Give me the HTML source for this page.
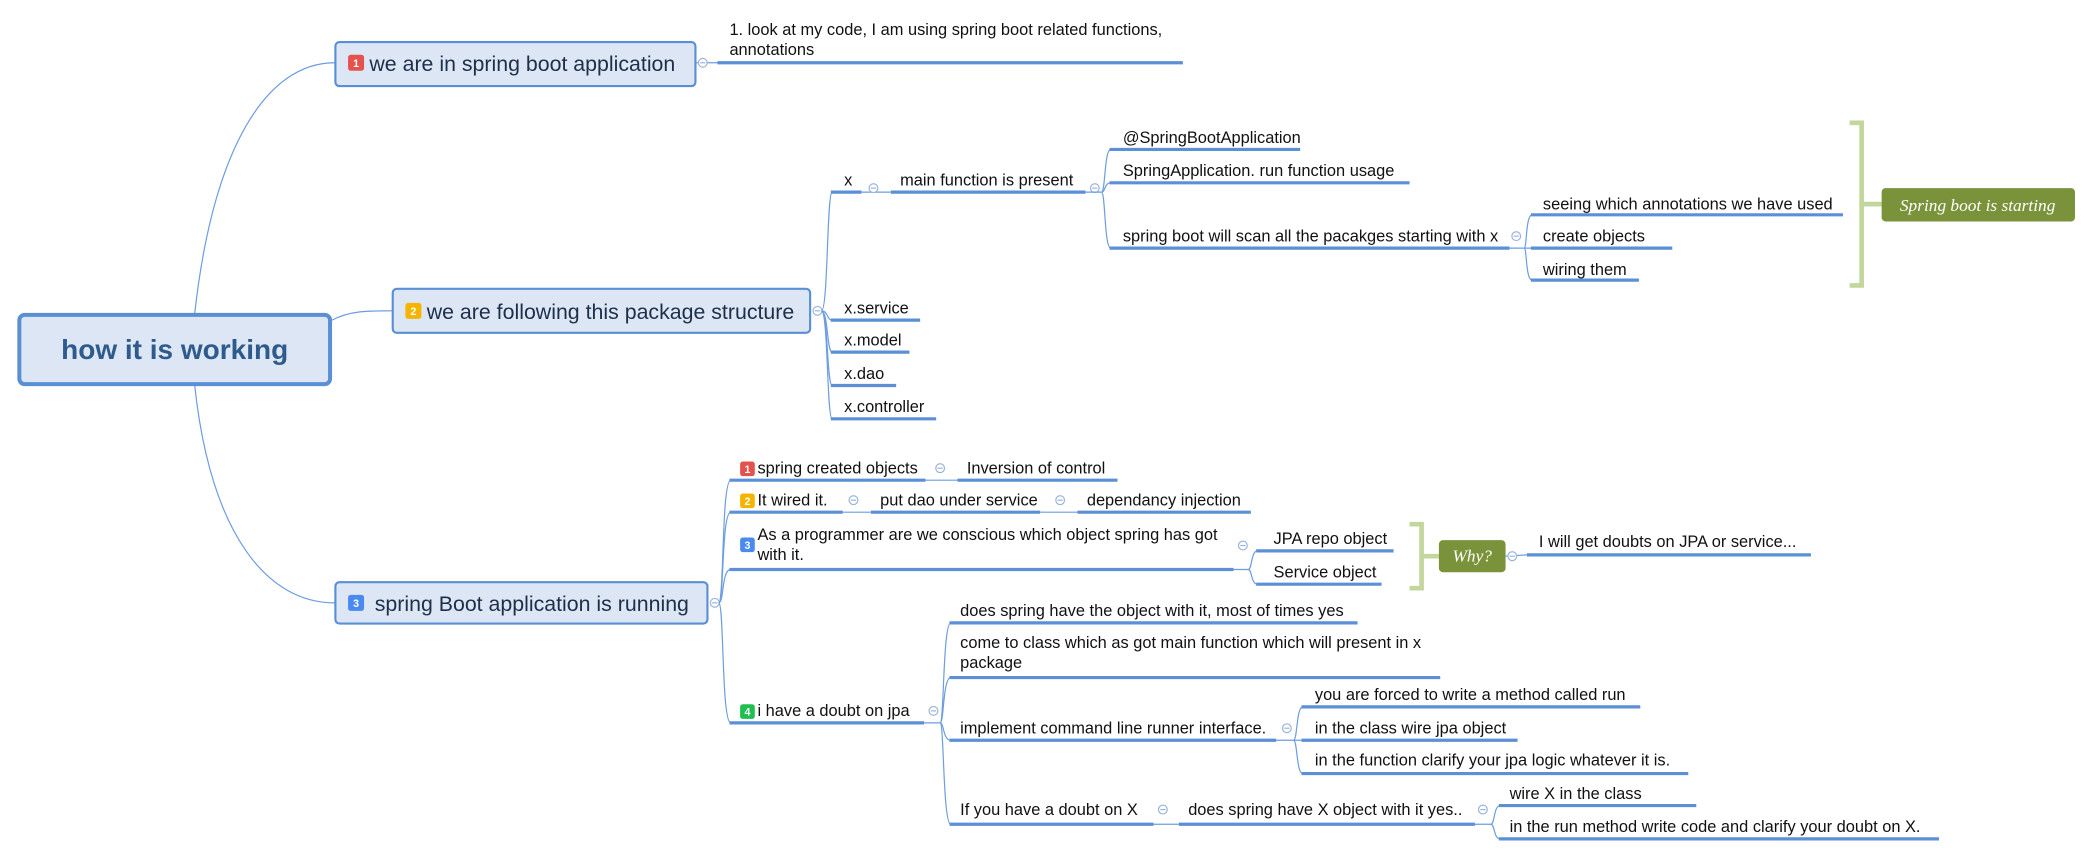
<!DOCTYPE html>
<html><head><meta charset="utf-8"><style>
html,body{margin:0;padding:0;background:#fff;}
svg{display:block;}
text{font-family:"Liberation Sans",Arial,sans-serif;fill:#111;}
.t{font-size:12.3px;}
.u{stroke:#5b8fd6;stroke-width:2.4;}
.c{stroke:#6d9ce0;stroke-width:0.9;fill:none;}
.ci{fill:#fff;stroke:#9bb4da;stroke-width:0.9;}
.cm{stroke:#9bb4da;stroke-width:0.9;}
.mk{font-size:8px;fill:#fff;font-weight:bold;text-anchor:middle;}
</style></head><body>
<svg width="2091" height="859" viewBox="0 0 1568 644" xmlns="http://www.w3.org/2000/svg">
<path class="c" d="M146 235 C 160 110 200 47 251 47"/>
<path class="c" d="M249 240 C 262 233 275 233 294 233"/>
<path class="c" d="M146 289 C 158 400 200 452 251 452"/>

<rect x="14.5" y="236" width="233" height="52" rx="4" fill="#dce6f4" stroke="#5a8fd6" stroke-width="3"/>
<text x="131" y="269" text-anchor="middle" style="font-size:21px;font-weight:bold;fill:#2f5a8c">how it is working</text>

<rect x="251.5" y="31.5" width="270" height="33" rx="3" fill="#dce6f4" stroke="#5a8fd6" stroke-width="1.6"/>
<rect x="261" y="41" width="12" height="12" rx="2" fill="#e5514c"/><text class="mk" x="267" y="50">1</text>
<text x="277" y="53" style="font-size:16px;fill:#1e2f4a">we are in spring boot application</text>
<line class="c" x1="522" y1="47" x2="538" y2="47"/>
<circle class="ci" cx="527" cy="47" r="3.3"/><line class="cm" x1="525" y1="47" x2="529" y2="47"/>
<line class="u" x1="538" y1="47" x2="887" y2="47"/>
<text class="t" x="547" y="26">1. look at my code, I am using spring boot related functions,</text>
<text class="t" x="547" y="41">annotations</text>

<rect x="294.5" y="216.5" width="313" height="33" rx="3" fill="#dce6f4" stroke="#5a8fd6" stroke-width="1.6"/>
<rect x="304" y="227" width="12" height="12" rx="2" fill="#f5b400"/><text class="mk" x="310" y="236">2</text>
<text x="320" y="239" style="font-size:16px;fill:#1e2f4a">we are following this package structure</text>
<circle class="ci" cx="613" cy="233" r="3.3"/><line class="cm" x1="611" y1="233" x2="615" y2="233"/>
<path class="c" d="M616 233 C 621 233 620 144 624 144"/>
<path class="c" d="M616 233 C 621 233 620 240 624 240"/>
<path class="c" d="M616 233 C 621 233 620 264 624 264"/>
<path class="c" d="M616 233 C 621 233 620 289 624 289"/>
<path class="c" d="M616 233 C 621 233 620 314 624 314"/>
<text class="t" x="633" y="144" dy="-5">x</text><line class="u" x1="623" y1="144" x2="646" y2="144"/>
<line class="c" x1="646" y1="144" x2="668" y2="144"/>
<circle class="ci" cx="655" cy="141" r="3.3"/><line class="cm" x1="653" y1="141" x2="657" y2="141"/>
<text class="t" x="675" y="139">main function is present</text><line class="u" x1="668" y1="144" x2="814" y2="144"/>
<circle class="ci" cx="821" cy="141" r="3.3"/><line class="cm" x1="819" y1="141" x2="823" y2="141"/>
<path class="c" d="M814 144 L826 144 C 829 144 828 112 833 112"/>
<path class="c" d="M826 144 C 829 144 828 137 833 137"/>
<path class="c" d="M826 144 C 829 144 828 186 833 186"/>
<text class="t" x="842" y="107">@SpringBootApplication</text><line class="u" x1="832" y1="112" x2="975" y2="112"/>
<text class="t" x="842" y="132">SpringApplication. run function usage</text><line class="u" x1="832" y1="137" x2="1057" y2="137"/>
<text class="t" x="842" y="181">spring boot will scan all the pacakges starting with x</text><line class="u" x1="832" y1="186" x2="1132" y2="186"/>
<circle class="ci" cx="1137" cy="177" r="3.3"/><line class="cm" x1="1135" y1="177" x2="1139" y2="177"/>
<path class="c" d="M1132 186 L1149 186"/>
<path class="c" d="M1143 186 C 1145 186 1144 161 1149 161"/>
<path class="c" d="M1143 186 C 1145 186 1144 210 1149 210"/>
<text class="t" x="1157" y="157">seeing which annotations we have used</text><line class="u" x1="1148" y1="161" x2="1382" y2="161"/>
<text class="t" x="1157" y="181">create objects</text><line class="u" x1="1148" y1="186" x2="1254" y2="186"/>
<text class="t" x="1157" y="206">wiring them</text><line class="u" x1="1148" y1="210" x2="1229" y2="210"/>
<path d="M1387 92 L1396 92 L1396 214 L1387 214" fill="none" stroke="#c3d69b" stroke-width="3.5"/>
<line x1="1396" y1="153" x2="1411" y2="153" stroke="#c3d69b" stroke-width="3.5"/>
<rect x="1411" y="141" width="145" height="25" rx="3" fill="#7a933b"/>
<text x="1483" y="158" text-anchor="middle" style="font-family:'Liberation Serif',serif;font-style:italic;font-size:13px;fill:#fff">Spring boot is starting</text>
<text class="t" x="633" y="235">x.service</text><line class="u" x1="623" y1="240" x2="690" y2="240"/>
<text class="t" x="633" y="259">x.model</text><line class="u" x1="623" y1="264" x2="682" y2="264"/>
<text class="t" x="633" y="284">x.dao</text><line class="u" x1="623" y1="289" x2="672" y2="289"/>
<text class="t" x="633" y="309">x.controller</text><line class="u" x1="623" y1="314" x2="702" y2="314"/>

<rect x="251.5" y="436.5" width="279" height="31" rx="3" fill="#dce6f4" stroke="#5a8fd6" stroke-width="1.6"/>
<rect x="261" y="446" width="12" height="12" rx="2" fill="#4a8af0"/><text class="mk" x="267" y="455">3</text>
<text x="281" y="458" style="font-size:16px;fill:#1e2f4a">spring Boot application is running</text>
<circle class="ci" cx="536" cy="452" r="3.3"/><line class="cm" x1="534" y1="452" x2="538" y2="452"/>
<path class="c" d="M539 452 C 543 452 541 360 548 360"/>
<path class="c" d="M539 452 C 543 452 541 384 548 384"/>
<path class="c" d="M539 452 C 543 452 541 427 548 427"/>
<path class="c" d="M539 452 C 543 452 541 542 548 542"/>

<rect x="555" y="346" width="11" height="11" rx="2" fill="#e5514c"/><text class="mk" x="560.5" y="354.5">1</text>
<text class="t" x="568" y="355">spring created objects</text><line class="u" x1="547" y1="360" x2="694" y2="360"/>
<line class="c" x1="694" y1="360" x2="718" y2="360"/>
<circle class="ci" cx="705" cy="351" r="3.3"/><line class="cm" x1="703" y1="351" x2="707" y2="351"/>
<text class="t" x="725" y="355">Inversion of control</text><line class="u" x1="718" y1="360" x2="838" y2="360"/>

<rect x="555" y="370" width="11" height="11" rx="2" fill="#f5b400"/><text class="mk" x="560.5" y="378.5">2</text>
<text class="t" x="568" y="379">It wired it.</text><line class="u" x1="547" y1="384" x2="632" y2="384"/>
<line class="c" x1="632" y1="384" x2="653" y2="384"/>
<circle class="ci" cx="640" cy="375" r="3.3"/><line class="cm" x1="638" y1="375" x2="642" y2="375"/>
<text class="t" x="660" y="379">put dao under service</text><line class="u" x1="653" y1="384" x2="780" y2="384"/>
<line class="c" x1="780" y1="384" x2="808" y2="384"/>
<circle class="ci" cx="795" cy="375" r="3.3"/><line class="cm" x1="793" y1="375" x2="797" y2="375"/>
<text class="t" x="815" y="379">dependancy injection</text><line class="u" x1="808" y1="384" x2="938" y2="384"/>

<rect x="555" y="403" width="11" height="11" rx="2" fill="#4a8af0"/><text class="mk" x="560.5" y="411.5">3</text>
<text class="t" x="568" y="405">As a programmer are we conscious which object spring has got</text>
<text class="t" x="568" y="420">with it.</text><line class="u" x1="547" y1="427" x2="925" y2="427"/>
<circle class="ci" cx="932" cy="409" r="3.3"/><line class="cm" x1="930" y1="409" x2="934" y2="409"/>
<path class="c" d="M925 427 L936 427 C 939 427 938 413 943 413"/>
<path class="c" d="M936 427 C 939 427 938 438 943 438"/>
<text class="t" x="955" y="408">JPA repo object</text><line class="u" x1="942" y1="413" x2="1045" y2="413"/>
<text class="t" x="955" y="433">Service object</text><line class="u" x1="942" y1="438" x2="1036" y2="438"/>
<path d="M1057 393 L1066 393 L1066 441 L1057 441" fill="none" stroke="#c3d69b" stroke-width="3.5"/>
<line x1="1066" y1="417" x2="1079" y2="417" stroke="#c3d69b" stroke-width="3.5"/>
<rect x="1079" y="405" width="50" height="24" rx="3" fill="#7a933b"/>
<text x="1104" y="421" text-anchor="middle" style="font-family:'Liberation Serif',serif;font-style:italic;font-size:13px;fill:#fff">Why?</text>
<line class="c" x1="1129" y1="417" x2="1145" y2="416"/>
<circle class="ci" cx="1134" cy="417" r="3.3"/><line class="cm" x1="1132" y1="417" x2="1136" y2="417"/>
<text class="t" x="1154" y="410">I will get doubts on JPA or service...</text><line class="u" x1="1145" y1="416" x2="1358" y2="416"/>

<rect x="555" y="528" width="11" height="11" rx="2" fill="#1fbf4f"/><text class="mk" x="560.5" y="536.5">4</text>
<text class="t" x="568" y="537">i have a doubt on jpa</text><line class="u" x1="547" y1="542" x2="693" y2="542"/>
<circle class="ci" cx="700" cy="533" r="3.3"/><line class="cm" x1="698" y1="533" x2="702" y2="533"/>
<path class="c" d="M693 542 L705 542 C 708 542 707 467 713 467"/>
<path class="c" d="M705 542 C 708 542 707 508 713 508"/>
<path class="c" d="M705 542 C 708 542 707 555 713 555"/>
<path class="c" d="M705 542 C 708 542 707 618 713 618"/>
<text class="t" x="720" y="462">does spring have the object with it, most of times yes</text><line class="u" x1="712" y1="467" x2="1018" y2="467"/>
<text class="t" x="720" y="486">come to class which as got main function which will present in x</text>
<text class="t" x="720" y="501">package</text><line class="u" x1="712" y1="508" x2="1080" y2="508"/>
<text class="t" x="720" y="550">implement command line runner interface.</text><line class="u" x1="712" y1="555" x2="957" y2="555"/>
<circle class="ci" cx="965" cy="546" r="3.3"/><line class="cm" x1="963" y1="546" x2="967" y2="546"/>
<path class="c" d="M957 555 L977 555"/>
<path class="c" d="M970 555 C 973 555 972 530 977 530"/>
<path class="c" d="M970 555 C 973 555 972 580 977 580"/>
<text class="t" x="986" y="525">you are forced to write a method called run</text><line class="u" x1="976" y1="530" x2="1230" y2="530"/>
<text class="t" x="986" y="550">in the class wire jpa object</text><line class="u" x1="976" y1="555" x2="1138" y2="555"/>
<text class="t" x="986" y="574">in the function clarify your jpa logic whatever it is.</text><line class="u" x1="976" y1="580" x2="1266" y2="580"/>
<text class="t" x="720" y="611">If you have a doubt on X</text><line class="u" x1="712" y1="618" x2="865" y2="618"/>
<line class="c" x1="865" y1="618" x2="884" y2="618"/>
<circle class="ci" cx="872" cy="607" r="3.3"/><line class="cm" x1="870" y1="607" x2="874" y2="607"/>
<text class="t" x="891" y="611">does spring have X object with it yes..</text><line class="u" x1="884" y1="618" x2="1106" y2="618"/>
<circle class="ci" cx="1112" cy="607" r="3.3"/><line class="cm" x1="1110" y1="607" x2="1114" y2="607"/>
<path class="c" d="M1106 618 L1118 618 C 1121 618 1120 604 1125 604"/>
<path class="c" d="M1118 618 C 1121 618 1120 629 1125 629"/>
<text class="t" x="1132" y="599">wire X in the class</text><line class="u" x1="1124" y1="604" x2="1272" y2="604"/>
<text class="t" x="1132" y="624">in the run method write code and clarify your doubt on X.</text><line class="u" x1="1124" y1="629" x2="1454" y2="629"/>
</svg>
</body></html>
